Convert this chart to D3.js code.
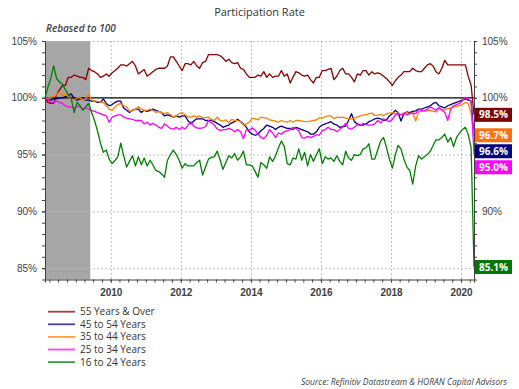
<!DOCTYPE html>
<html lang="en">
<head>
<meta charset="UTF-8">
<title>Participation Rate</title>
<script src="https://d3js.org/d3.v7.min.js"></script>
<style>
  body { margin: 0; background: #fff; }
  svg { font-family: "Open Sans", sans-serif; }
  .grid line { stroke: #bfbfbf; stroke-width: 1; stroke-dasharray: 2,2; }
  .axis path, .axis line { stroke: #404040; }
  .axis text { fill: #404040; font-size: 10px; }
  .xaxis text { font-weight: bold; }
</style>
</head>
<body>
<script>
const width = 519, height = 389;
const margin = { left: 45, right: 45, top: 41, bottom: 109.5 };

// Monthly observations, Feb 2008 .. May 2020
const startMonth = new Date(2008, 1, 1);
const endMonth = new Date(2020, 4, 1);

const seriesNames = ["55 Years & Over", "45 to 54 Years", "35 to 44 Years", "25 to 34 Years", "16 to 24 Years"];
const seriesColors = ["#8b0000", "#000080", "#ff8000", "#ff00ff", "#008000"];
const labelColors = ["#800000", "#000080", "#ff7010", "#ff00ff", "#007800"];

const s55 = [
  100.0, 99.6, 99.5, 99.5, 100.3, 100.7, 101.1, 101.1, 101.8, 101.8,
  102.0, 101.9, 101.8, 101.8, 101.6, 102.6, 102.4, 102.3, 102.1, 101.8,
  101.9, 102.1, 101.9, 102.2, 102.4, 102.6, 102.9, 102.9, 102.8, 103.0,
  103.2, 102.8, 102.1, 102.3, 102.5, 101.9, 102.1, 102.3, 102.5, 102.6,
  102.6, 102.6, 102.8, 103.6, 103.6, 103.2, 102.8, 102.4, 103.0, 103.0,
  102.9, 103.2, 102.8, 102.6, 103.1, 103.2, 103.8, 103.8, 103.8, 103.8,
  103.7, 103.5, 103.2, 103.4, 103.1, 103.0, 103.1, 102.6, 102.5, 102.1,
  101.8, 101.8, 101.8, 102.0, 101.9, 102.3, 101.8, 102.1, 101.8, 101.9,
  101.9, 102.4, 101.9, 102.1, 101.3, 101.8, 102.3, 102.2, 102.0, 101.9,
  102.0, 101.6, 101.3, 101.8, 101.8, 102.4, 102.4, 102.5, 102.6, 101.6,
  101.9, 102.4, 102.6, 102.1, 102.1, 101.8, 101.4, 102.1, 102.0, 102.4,
  102.4, 102.0, 102.3, 102.1, 102.2, 102.1, 101.9, 101.7, 101.4, 101.1,
  101.5, 101.8, 102.0, 102.3, 102.3, 102.3, 102.6, 102.4, 102.3, 102.3,
  102.6, 102.9, 103.0, 102.8, 102.3, 102.1, 102.6, 103.3, 102.9, 102.9,
  102.9, 102.9, 102.9, 102.9, 102.9, 101.9, 101.1, 98.5
];
const s45 = [
  100.0, 99.8, 99.8, 99.9, 99.9, 100.0, 100.0, 100.1, 100.2, 100.35,
  99.9, 99.8, 99.9, 99.9, 99.8, 99.8, 99.7, 99.7, 99.6, 99.6,
  99.9, 99.5, 99.3, 99.4, 99.6, 99.7, 99.7, 99.1, 98.9, 98.7,
  98.9, 99.0, 99.0, 98.7, 98.9, 98.8, 98.9, 99.0, 98.9, 98.8,
  98.7, 98.4, 98.5, 98.4, 98.3, 98.4, 98.3, 98.4, 98.4, 98.0,
  97.7, 97.95, 98.15, 98.15, 98.15, 98.0, 98.0, 98.0, 97.9, 97.75,
  97.6, 97.4, 97.5, 97.6, 97.8, 97.9, 98.1, 97.9, 97.7, 97.4,
  97.0, 96.8, 96.7, 96.8, 97.1, 97.3, 97.6, 97.5, 97.4, 97.2,
  97.4, 97.5, 97.4, 97.3, 97.3, 97.2, 97.4, 97.3, 97.2, 97.1,
  97.0, 96.8, 96.8, 97.0, 97.4, 97.6, 97.7, 97.8, 97.9, 97.7,
  97.6, 97.4, 97.45, 97.5, 98.0, 98.6, 97.9, 97.7, 97.6, 97.6,
  97.7, 97.9, 98.0, 98.15, 98.2, 98.15, 98.0, 98.05, 98.4, 98.6,
  98.9, 98.7, 97.95, 98.6, 98.75, 98.7, 98.8, 98.85, 99.0, 99.0,
  99.1, 99.2, 99.3, 99.5, 99.6, 99.3, 99.2, 99.1, 99.3, 99.4,
  99.5, 99.6, 99.7, 99.8, 99.9, 99.8, 99.7, 96.6
];
const s35 = [
  100.0, 99.95, 100.05, 100.1, 100.3, 100.5, 100.2, 100.4, 100.1, 99.9,
  99.8, 100.0, 100.0, 99.8, 99.9, 100.35, 99.8, 99.7, 99.7, 99.6,
  99.6, 99.3, 99.0, 98.9, 99.2, 99.4, 99.5, 99.3, 99.2, 98.8,
  98.9, 99.0, 99.2, 99.0, 98.9, 98.9, 99.0, 98.9, 98.7, 98.8,
  98.7, 98.6, 98.7, 98.5, 98.3, 98.4, 98.6, 98.7, 98.5, 98.3,
  98.3, 98.4, 98.3, 98.4, 98.25, 98.25, 98.3, 98.1, 98.0, 98.3,
  98.0, 97.95, 98.05, 97.8, 98.1, 98.0, 98.0, 97.9, 97.6, 97.7,
  97.85, 98.2, 98.15, 98.05, 98.3, 98.25, 98.2, 98.05, 98.0, 97.95,
  97.85, 98.0, 97.9, 97.85, 98.0, 97.85, 98.0, 98.0, 97.95, 97.9,
  97.9, 97.95, 98.0, 98.05, 98.25, 98.2, 98.35, 98.4, 98.4, 98.15,
  98.3, 98.25, 98.3, 98.2, 98.15, 98.15, 98.2, 98.3, 98.4, 98.5,
  98.5, 98.6, 98.65, 98.45, 98.45, 98.55, 98.4, 98.6, 98.65, 98.7,
  98.6, 98.65, 98.5, 98.6, 98.7, 98.6, 98.7, 97.95, 98.75, 98.8,
  98.85, 98.85, 98.9, 98.8, 98.75, 99.0, 99.0, 98.9, 99.05, 99.1,
  99.2, 99.25, 99.3, 99.4, 99.6, 99.5, 98.6, 96.7
];
const s25 = [
  100.0, 99.8, 99.6, 99.6, 99.7, 99.6, 99.5, 99.3, 99.2, 99.2,
  99.1, 99.25, 99.2, 99.0, 99.1, 99.0, 98.9, 98.8, 98.7, 98.6,
  98.5, 98.4, 97.85, 98.3, 98.4, 98.5, 98.5, 98.3, 98.2, 98.15,
  98.1, 98.0, 98.0, 98.0, 97.7, 97.85, 97.6, 97.75, 97.6, 97.4,
  97.3, 97.7, 97.5, 97.3, 97.25, 97.4, 97.2, 97.4, 97.25, 97.6,
  97.9, 97.5, 97.35, 97.3, 97.35, 97.45, 98.0, 97.8, 97.6, 97.25,
  97.1, 97.2, 97.2, 97.3, 97.2, 97.0, 97.2, 97.0, 96.4, 97.2,
  97.15, 97.35, 97.15, 96.8, 96.5, 96.4, 96.7, 97.2, 96.9, 96.5,
  96.9, 96.8, 97.0, 97.1, 97.2, 97.4, 97.3, 97.1, 96.5, 96.45,
  96.6, 96.5, 96.6, 96.75, 96.7, 97.1, 97.2, 97.4, 97.2, 97.2,
  97.0, 97.2, 97.45, 97.75, 97.3, 97.25, 97.4, 97.65, 97.55, 97.75,
  97.65, 97.6, 97.6, 97.7, 98.0, 97.8, 98.15, 98.0, 97.9, 98.1,
  98.5, 98.6, 98.5, 98.65, 98.5, 98.6, 98.65, 98.6, 98.95, 98.9,
  98.85, 99.0, 99.2, 99.05, 98.9, 99.15, 98.9, 98.7, 98.0, 99.0,
  99.3, 99.4, 99.5, 99.75, 100.05, 99.9, 99.7, 95.0
];
const s16 = [
  100.0, 100.9, 101.7, 102.8, 101.7, 101.4, 101.2, 100.7, 100.3, 99.9,
  98.7, 99.6, 99.3, 98.9, 99.2, 99.5, 98.7, 98.0, 97.1, 96.0,
  95.2, 95.4, 94.6, 94.2, 94.5, 94.8, 96.0, 94.9, 93.9, 94.4,
  94.9, 94.0, 94.8, 94.1, 94.7, 94.0, 94.5, 94.1, 93.6, 93.5,
  93.3, 93.0, 94.5, 95.0, 95.4, 95.0, 94.5, 93.8, 94.2, 94.0,
  94.0, 94.0, 94.3, 94.5, 93.2, 93.9, 94.6, 94.75, 94.8, 95.3,
  94.5, 93.7, 94.3, 94.9, 94.7, 95.1, 94.5, 94.8, 95.3, 94.1,
  94.1, 94.0, 93.5, 93.0, 94.3, 94.1, 93.8, 94.8, 94.4, 94.9,
  95.6, 96.2, 95.7, 94.2, 94.1, 94.7, 94.6, 95.5, 94.5, 95.2,
  94.0, 95.0, 94.4, 95.0, 95.5, 94.2, 94.8, 94.6, 94.7, 94.4,
  94.9, 94.4, 94.1, 95.3, 94.7, 94.5, 95.0, 94.9, 95.0, 95.5,
  95.6, 95.95, 94.6, 94.6, 95.4, 96.2, 96.5, 95.6, 94.6, 93.8,
  95.0, 95.8, 95.5, 94.6, 93.9, 93.6, 92.4, 94.0, 94.9, 94.6,
  94.8, 95.0, 95.3, 95.8, 96.3, 96.3, 96.5, 96.8, 96.1, 96.5,
  95.7, 96.5, 96.9, 97.2, 97.4, 96.8, 95.6, 85.1
];
const seriesValues = [s55, s45, s35, s25, s16];

const yMajorTicks = [85, 90, 95, 100, 105];
const yRightLabels = [90, 100, 105]; // 85% and 95% sit under the end-value tags
const yMinorTicks = d3.range(85, 106);
const yearTicks = [2010, 2012, 2014, 2016, 2018, 2020];
const recession = [new Date(2007, 11, 1), new Date(2009, 5, 1)];

const months = d3.timeMonth.range(startMonth, d3.timeMonth.offset(endMonth, 1))
  .map(d => d3.timeDay.offset(d, 14));

const svg = d3.select("body").append("svg")
  .attr("width", width)
  .attr("height", height);

const x = d3.scaleTime()
  .domain([months[0], months[months.length - 1]])
  .range([margin.left, width - margin.right]);
const y = d3.scaleLinear()
  .domain([84, 105])
  .range([height - margin.bottom, margin.top]);

// Recession shading
svg.append("rect")
  .attr("x", x.range()[0])
  .attr("y", margin.top)
  .attr("width", x(recession[1]) - x.range()[0])
  .attr("height", y(84) - margin.top)
  .attr("fill", "#a6a6a6");

// Gridlines
const grid = svg.append("g").attr("class", "grid");
grid.selectAll(".h")
  .data(yMajorTicks.filter(v => v !== 100))
  .enter().append("line")
  .attr("x1", x.range()[0]).attr("x2", x.range()[1])
  .attr("y1", d => y(d) + 0.5).attr("y2", d => y(d) + 0.5);
grid.selectAll(".v")
  .data(yearTicks)
  .enter().append("line")
  .attr("x1", d => x(new Date(d, 0, 1)) + 0.5).attr("x2", d => x(new Date(d, 0, 1)) + 0.5)
  .attr("y1", margin.top).attr("y2", y(84));

svg.append("line")
  .attr("x1", x.range()[0]).attr("x2", x.range()[1])
  .attr("y1", y(100)).attr("y2", y(100))
  .attr("stroke", "#000").attr("stroke-width", 1.3);

// Series
const line = d3.line()
  .x((d, i) => x(months[i]))
  .y(d => y(d));

seriesValues.forEach((vals, k) => {
  svg.append("path")
    .datum(vals)
    .attr("fill", "none")
    .attr("stroke", seriesColors[k])
    .attr("stroke-width", 1.3)
    .attr("stroke-linejoin", "round")
    .attr("d", line);
});

// Axes
const fmtPct = d => d + "%";
svg.append("g").attr("class", "axis")
  .attr("transform", `translate(${margin.left},0)`)
  .call(d3.axisLeft(y).tickValues(yMinorTicks).tickSize(3).tickFormat(""));
svg.append("g").attr("class", "axis")
  .attr("transform", `translate(${margin.left},0)`)
  .call(d3.axisLeft(y).tickValues(yMajorTicks).tickSize(3).tickPadding(5).tickFormat(fmtPct))
  .call(g => g.select(".domain").remove());

svg.append("g").attr("class", "axis")
  .attr("transform", `translate(${width - margin.right},0)`)
  .call(d3.axisRight(y).tickValues(yMinorTicks).tickSize(3).tickFormat(""));
svg.append("g").attr("class", "axis")
  .attr("transform", `translate(${width - margin.right},0)`)
  .call(d3.axisRight(y).tickValues(yRightLabels).tickSize(3).tickPadding(5).tickFormat(fmtPct))
  .call(g => g.select(".domain").remove());

svg.append("g").attr("class", "axis")
  .attr("transform", `translate(0,${y(84)})`)
  .call(d3.axisBottom(x).ticks(d3.timeMonth.every(3)).tickSize(3).tickFormat(""));
svg.append("g").attr("class", "axis xaxis")
  .attr("transform", `translate(0,${y(84)})`)
  .call(d3.axisBottom(x).tickValues(yearTicks.map(yr => new Date(yr, 0, 1))).tickSize(3).tickPadding(6).tickFormat(d3.timeFormat("%Y")))
  .call(g => g.select(".domain").remove());

// End-value labels, nudged apart where they would overlap
const ends = seriesValues.map((vals, k) => ({ k: k, v: vals[vals.length - 1], y: y(vals[vals.length - 1]) }))
  .sort((a, b) => a.y - b.y);
for (let i = 1; i < ends.length; i++) {
  if (ends[i].y < ends[i - 1].y + 16) ends[i].y = ends[i - 1].y + 16;
}
const tags = svg.selectAll(".tag").data(ends).enter().append("g")
  .attr("transform", d => `translate(${width - margin.right + 1},${d.y})`);
tags.append("rect")
  .attr("x", 0).attr("y", -7).attr("width", 37).attr("height", 14)
  .attr("fill", d => labelColors[d.k]);
tags.append("text")
  .attr("x", 18.5).attr("y", 0).attr("dy", "0.35em")
  .attr("text-anchor", "middle")
  .attr("fill", "#fff").attr("font-size", "10px").attr("font-weight", "bold")
  .text(d => d.v.toFixed(1) + "%");

// Title and notes
svg.append("text")
  .attr("x", width / 2).attr("y", 12).attr("dy", "0.35em")
  .attr("text-anchor", "middle")
  .attr("font-size", "11px").attr("fill", "#333")
  .text("Participation Rate");
svg.append("text")
  .attr("x", 46).attr("y", 32)
  .attr("font-size", "10px").attr("font-style", "italic").attr("font-weight", "600").attr("fill", "#404040")
  .text("Rebased to 100");
svg.append("text")
  .attr("x", 507).attr("y", 382).attr("dy", "0.35em")
  .attr("text-anchor", "end")
  .attr("font-size", "8.5px").attr("font-style", "italic").attr("fill", "#404040")
  .text("Source: Refinitiv Datastream & HORAN Capital Advisors");

// Legend
const legend = svg.selectAll(".legend").data(seriesNames).enter().append("g")
  .attr("transform", (d, i) => `translate(48,${311.7 + i * 12.6})`);
legend.append("line")
  .attr("x1", 0).attr("x2", 27)
  .attr("stroke", (d, i) => seriesColors[i]).attr("stroke-width", 1.8).attr("opacity", 0.75);
legend.append("text")
  .attr("x", 32).attr("dy", "0.35em")
  .attr("font-size", "10px").attr("fill", "#333")
  .text(d => d);
</script>
</body>
</html>
